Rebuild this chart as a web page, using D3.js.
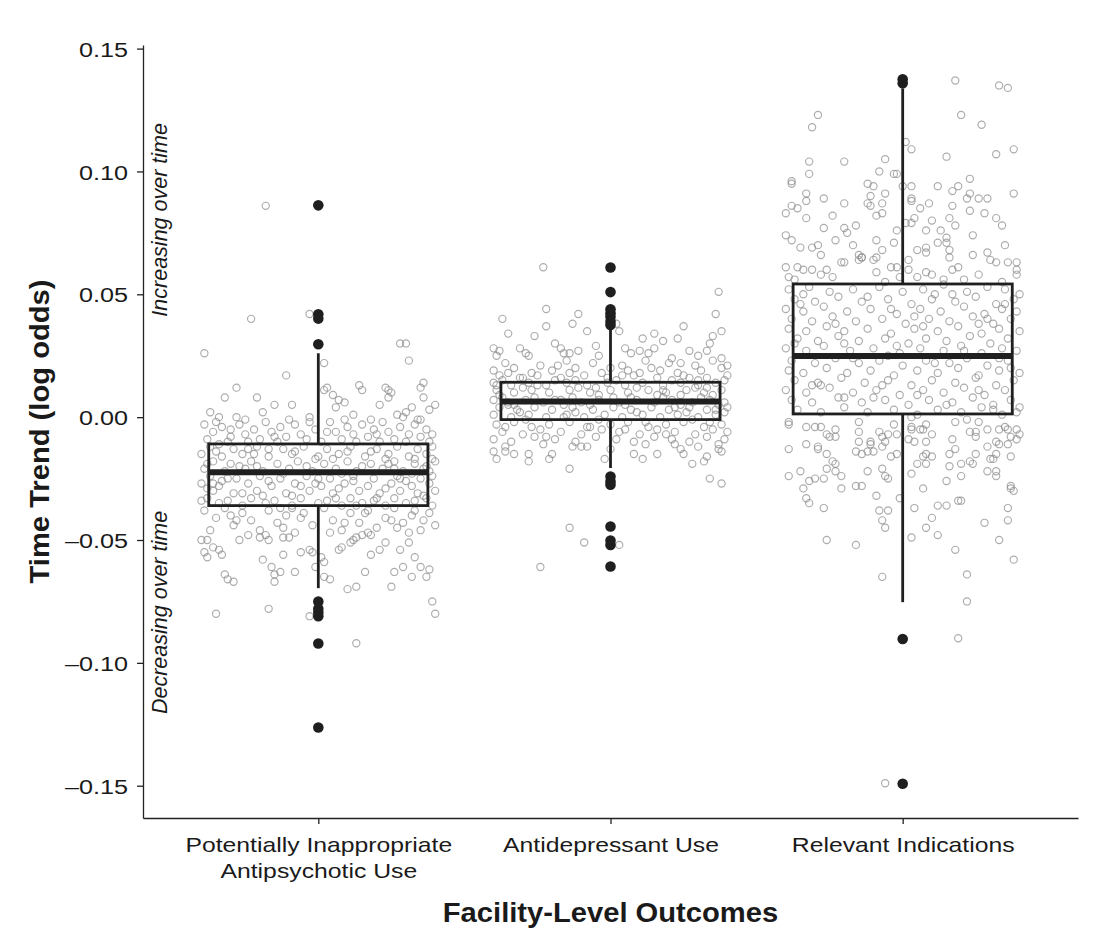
<!DOCTYPE html>
<html lang="en">
<head>
<meta charset="utf-8">
<title>Facility-Level Outcomes</title>
<script src="https://d3js.org/d3.v7.min.js"></script>
<style>
  body { margin: 0; background: #fff; }
  svg text { font-family: "Liberation Sans", Arial, Helvetica, sans-serif; fill: #1a1a1a; }
  .axis path, .axis line { stroke: #222; stroke-width: 1.3; }
  .pt { fill: none; stroke: #8c8c8c; stroke-opacity: 0.72; stroke-width: 1.15; }
  .box { fill: none; stroke: #1f1f1f; stroke-width: 2.8; }
  .median { stroke: #1f1f1f; stroke-width: 6; }
  .whisker { stroke: #1f1f1f; stroke-width: 2.8; }
  .outlier { fill: #1f1f1f; }
</style>
</head>
<body>
<svg id="chart" width="1104" height="940"></svg>
<script>
// categories and axis ticks
var categories = ["Potentially Inappropriate\nAntipsychotic Use", "Antidepressant Use", "Relevant Indications"];
var yTicks = [-0.15, -0.10, -0.05, 0.00, 0.05, 0.10, 0.15];

// box statistics
var boxQ1 = [-0.0360, -0.0010, 0.0013];
var boxMedian = [-0.0224, 0.0064, 0.0249];
var boxQ3 = [-0.0109, 0.0142, 0.0542];
var whiskerLow = [-0.0696, -0.0207, -0.0753];
var whiskerHigh = [0.0260, 0.0369, 0.1338];

var outliers = [
  [0.0862, 0.0419, 0.0401, 0.0297, -0.0750, -0.0780, -0.0795, -0.0810, -0.0921, -0.1263],
  [0.0609, 0.0509, 0.0439, 0.0423, 0.0409, 0.0389, 0.0375, -0.0242, -0.0262, -0.0275, -0.0445, -0.0502, -0.0520, -0.0608],
  [0.1375, 0.1359, -0.0903, -0.1492]
];

// jittered facilities: [jitter (% of category step), log-odds trend]
var points1 = [
  [-18,0.086],[-23,0.040],[-3,0.042],[-39,0.026],[28,0.030],[30,0.030],[31,0.023],[2,0.022],[-11,0.017],[-28,0.012],
  [14,0.013],[15,0.011],[23,0.012],[24,0.011],[36,0.014],[35,0.012],[2,0.011],[3,0.012],[-32,0.008],[-21,0.008],
  [-9,0.005],[-15,0.005],[5,0.009],[7,0.007],[9,0.006],[21,0.005],[24,0.008],[25,0.010],[40,0.005],[38,0.003],
  [36,0.008],[6,0.004],[-37,0.002],[-34,0.000],[-28,0.000],[-25,-0.001],[-3,0.000],[-3,-0.002],[27,0.001],[29,0.000],
  [30,0.002],[32,0.004],[34,-0.001],
  [-39,-0.003],[-36,-0.006],[-33,-0.004],[-30,-0.008],[-27,-0.003],[-25,-0.007],[-22,-0.005],[-20,-0.009],[-18,-0.002],[-16,-0.006],
  [-13,-0.004],[-11,-0.008],[-8,-0.003],[-6,-0.007],[-4,-0.009],[-1,-0.005],[4,-0.002],[6,-0.006],[8,-0.009],[10,-0.004],
  [12,-0.007],[15,-0.003],[17,-0.008],[19,-0.005],[22,-0.002],[24,-0.006],[26,-0.009],[28,-0.004],[31,-0.007],[33,-0.003],
  [35,-0.008],[37,-0.005],[39,-0.007],[-38,-0.009],[-31,-0.010],[-24,-0.010],[-14,-0.010],[1,-0.010],[13,-0.010],[21,-0.010],
  [30,-0.010],[38,-0.010],[-35,-0.002],[9,-0.001],[18,-0.001],
  [-37,-0.012],[-29,-0.013],[-21,-0.012],[-12,-0.013],[-5,-0.012],[3,-0.013],[11,-0.012],[20,-0.013],[27,-0.012],[34,-0.013],[39,-0.012],
  [-40,-0.015],[-33,-0.016],[-26,-0.015],[-17,-0.016],[-9,-0.015],[0,-0.016],[7,-0.015],[16,-0.016],[24,-0.015],[31,-0.016],[37,-0.015],
  [-36,-0.018],[-30,-0.019],[-23,-0.018],[-14,-0.019],[-7,-0.018],[2,-0.019],[10,-0.018],[18,-0.019],[26,-0.018],[33,-0.019],[40,-0.018],
  [-39,-0.021],[-32,-0.022],[-25,-0.021],[-19,-0.022],[-10,-0.021],[-2,-0.022],[6,-0.021],[13,-0.022],[22,-0.021],[29,-0.022],[36,-0.021],
  [-37,-0.024],[-28,-0.025],[-20,-0.024],[-13,-0.025],[-4,-0.024],[4,-0.025],[12,-0.024],[19,-0.025],[27,-0.024],[35,-0.025],[39,-0.024],
  [-40,-0.027],[-34,-0.028],[-24,-0.027],[-16,-0.028],[-8,-0.027],[1,-0.028],[9,-0.027],[17,-0.028],[25,-0.027],[32,-0.028],[38,-0.027],
  [-36,-0.030],[-29,-0.031],[-21,-0.030],[-11,-0.031],[-3,-0.030],[5,-0.031],[14,-0.030],[21,-0.031],[28,-0.030],[34,-0.031],[40,-0.030],
  [-38,-0.033],[-31,-0.034],[-23,-0.033],[-15,-0.034],[-6,-0.033],[3,-0.034],[11,-0.033],[19,-0.034],[26,-0.033],[33,-0.034],[37,-0.033],
  [-34,-0.035],[-26,-0.036],[-18,-0.035],[-9,-0.036],[0,-0.035],[8,-0.036],[15,-0.035],[23,-0.036],[30,-0.035],[39,-0.036],
  [-35,-0.014],[-27,-0.020],[-17,-0.013],[-12,-0.023],[-1,-0.017],[7,-0.029],[15,-0.020],[23,-0.017],[30,-0.026],[37,-0.020],
  [-31,-0.025],[-19,-0.032],[-6,-0.028],[10,-0.014],[20,-0.033],[32,-0.023],[-22,-0.015],[0,-0.025],[26,-0.021],[-38,-0.029],
  [-34,-0.011],[-24,-0.013],[-8,-0.014],[5,-0.017],[18,-0.014],[33,-0.017],[-38,-0.019],[-21,-0.020],[-4,-0.020],[8,-0.023],
  [24,-0.019],[38,-0.022],[-33,-0.026],[-17,-0.026],[-1,-0.027],[12,-0.026],[28,-0.025],[-26,-0.031],[-9,-0.032],[6,-0.033],
  [23,-0.029],[36,-0.032],[-40,-0.034],[-13,-0.037],[16,-0.039],[33,-0.038],[-28,-0.042],[-6,-0.041],[9,-0.043],[25,-0.042],
  [-15,-0.008],[3,-0.006],[20,-0.007],[-30,-0.005],[35,-0.001],[-19,0.002],[12,0.001],[-10,-0.001],[39,-0.017],[-36,-0.027],
  [-39,-0.038],[-35,-0.041],[-32,-0.037],[-29,-0.044],[-26,-0.039],[-23,-0.042],[-20,-0.046],[-17,-0.038],[-14,-0.043],[-11,-0.040],
  [-8,-0.047],[-5,-0.039],[-2,-0.044],[2,-0.037],[5,-0.042],[8,-0.046],[11,-0.039],[14,-0.043],[17,-0.038],[20,-0.045],
  [23,-0.041],[26,-0.037],[29,-0.043],[32,-0.040],[35,-0.046],[38,-0.039],[40,-0.044],[-37,-0.046],[-24,-0.048],[-12,-0.045],
  [4,-0.047],[18,-0.048],[31,-0.047],[-30,-0.040],[-9,-0.037],[13,-0.036],[27,-0.045],[36,-0.042],
  [-40,-0.050],[-38,-0.050],[-36,-0.053],[-34,-0.054],[-39,-0.055],[-38,-0.057],[-33,-0.056],[-32,-0.064],[-31,-0.066],[-29,-0.067],
  [-35,-0.080],[-27,-0.050],[-19,-0.058],[-17,-0.078],[-16,-0.061],[-15,-0.064],[-13,-0.063],[-15,-0.067],[-12,-0.056],[-8,-0.063],
  [-6,-0.055],[-20,-0.049],[-18,-0.048],[-17,-0.050],[-12,-0.049],[-10,-0.049],[-3,-0.054],[-2,-0.055],[-1,-0.061],[1,-0.057],
  [2,-0.059],[2,-0.065],[4,-0.066],[-3,-0.081],[10,-0.070],[13,-0.069],[13,-0.092],[7,-0.054],[8,-0.053],[11,-0.051],
  [12,-0.050],[13,-0.049],[15,-0.048],[17,-0.047],[16,-0.063],[18,-0.056],[21,-0.054],[23,-0.051],[25,-0.069],[26,-0.063],
  [28,-0.054],[29,-0.061],[31,-0.051],[33,-0.057],[32,-0.065],[35,-0.061],[38,-0.062],[37,-0.065],[39,-0.075],[40,-0.080]
];

var points2 = [
  [-23,0.061],[37,0.051],[-22,0.044],[-37,0.040],[-11,0.042],[-13,0.038],[-22,0.037],[-35,0.034],[-8,0.035],[-26,0.033],
  [36,0.042],[25,0.037],[38,0.035],[35,0.033],[34,0.030],[15,0.034],[11,0.032],[18,0.031],[23,0.032],[3,0.035],
  [2,0.038],[-19,0.030],[-17,0.028],[-16,0.026],[-40,0.028],[-38,0.027],[-39,0.025],[-31,0.028],[-29,0.026],[-28,0.025],
  [-11,0.027],[-14,0.026],[-5,0.029],[-4,0.025],[5,0.028],[7,0.026],[10,0.027],[13,0.026],[15,0.028],[21,0.024],
  [24,0.022],[27,0.027],[30,0.025],[33,0.027],[38,0.024],[40,0.021],
  [-40,-0.014],[-39,-0.017],[-36,-0.014],[-33,-0.015],[-28,-0.015],[-28,-0.018],[-20,-0.015],[-21,-0.017],[-14,-0.021],[-13,-0.012],
  [-10,-0.012],[-2,-0.017],[0,-0.013],[8,-0.015],[11,-0.017],[16,-0.015],[22,-0.011],[25,-0.015],[28,-0.019],[30,-0.012],
  [32,-0.018],[33,-0.016],[37,-0.013],[38,-0.014],[34,-0.025],[38,-0.027],[-14,-0.045],[-9,-0.051],[3,-0.052],[-24,-0.061],
  [-36,0.022],[-24,0.021],[-15,0.023],[-6,0.022],[4,0.021],[12,0.023],[20,0.022],[29,0.021],[35,0.023],
  [-40,0.019],[-33,0.020],[-27,0.018],[-20,0.019],[-12,0.020],[-3,0.018],[6,0.019],[14,0.020],[23,0.018],[31,0.019],[38,0.020],
  [-38,0.017],[-31,0.016],[-25,0.017],[-17,0.016],[-9,0.017],[-1,0.016],[8,0.017],[16,0.016],[25,0.017],[33,0.016],[40,0.017],
  [-35,0.018],[-14,0.018],[10,0.018],[27,0.016],
  [-40,0.014],[-34,0.013],[-28,0.014],[-22,0.013],[-15,0.014],[-8,0.013],[-1,0.014],[5,0.013],[11,0.014],[18,0.013],
  [24,0.014],[30,0.013],[36,0.014],[-37,0.015],[-19,0.015],[2,0.015],[21,0.015],[39,0.015],
  [-39,0.011],[-33,0.010],[-27,0.011],[-21,0.010],[-14,0.011],[-7,0.010],[0,0.011],[6,0.010],[13,0.011],[19,0.010],
  [26,0.011],[32,0.010],[38,0.011],[-30,0.012],[-11,0.012],[9,0.012],[29,0.012],[-4,0.009],[16,0.009],[35,0.009],
  [-40,0.007],[-35,0.006],[-29,0.007],[-23,0.006],[-17,0.007],[-10,0.006],[-4,0.007],[3,0.006],[9,0.007],[15,0.006],
  [21,0.007],[28,0.006],[34,0.007],[39,0.006],[-37,0.008],[-26,0.008],[-13,0.008],[1,0.008],[18,0.008],[31,0.008],
  [-38,0.004],[-32,0.003],[-26,0.004],[-20,0.003],[-13,0.004],[-6,0.003],[1,0.004],[7,0.003],[14,0.004],[20,0.003],
  [27,0.004],[33,0.003],[40,0.004],[-35,0.005],[-16,0.005],[5,0.005],[24,0.005],[37,0.005],
  [-40,0.001],[-34,0.000],[-28,0.001],[-22,0.000],[-15,0.001],[-9,0.000],[-2,0.001],[4,0.000],[11,0.001],[17,0.000],
  [23,0.001],[30,0.000],[36,0.001],[-31,0.002],[-12,0.002],[9,0.002],[26,0.002],
  [-39,-0.003],[-33,-0.002],[-27,-0.004],[-21,-0.003],[-14,-0.002],[-7,-0.004],[0,-0.003],[6,-0.002],[13,-0.004],[19,-0.003],
  [25,-0.002],[32,-0.004],[38,-0.003],
  [-37,-0.006],[-30,-0.007],[-24,-0.005],[-17,-0.006],[-10,-0.007],[-3,-0.005],[3,-0.006],[10,-0.007],[16,-0.005],[22,-0.006],
  [29,-0.007],[35,-0.005],[40,-0.006],
  [-40,-0.009],[-34,-0.010],[-26,-0.008],[-19,-0.009],[-12,-0.010],[-5,-0.008],[2,-0.009],[8,-0.010],[15,-0.008],[21,-0.009],
  [27,-0.010],[33,-0.008],[39,-0.009],
  [-36,-0.012],[-23,-0.011],[-8,-0.012],[12,-0.011],[24,-0.013],[37,-0.011],
  [-38,0.009],[-25,0.013],[-12,0.015],[4,0.017],[18,0.011],[33,0.012],[-33,0.005],[-19,0.007],[-7,0.005],[7,0.008],
  [22,0.004],[36,0.003],[-29,-0.001],[-16,0.000],[-4,-0.001],[12,-0.002],[28,-0.001],[-36,-0.004],[-22,-0.008],[-8,-0.004],
  [5,-0.005],[19,-0.007],[34,-0.002],[-30,0.016],[-18,0.021],[0,0.020],[17,0.019],[30,0.015],[-5,0.012],[24,0.009],
  [-39,0.013],[39,0.002]
];

var points3 = [
  [18,0.137],[33,0.135],[36,0.134],[-29,0.123],[-31,0.118],[20,0.123],[27,0.119],[1,0.112],[3,0.109],[38,0.109],
  [32,0.107],[15,0.106],[-20,0.104],[-6,0.105],[-32,0.104],[-32,0.099],[-8,0.100],[-3,0.099],[-2,0.099],[-38,0.096],
  [-38,0.095],[23,0.097],[38,0.091],[-12,0.095],[-10,0.094],[0,0.094],[3,0.094],[12,0.094],[19,0.094],[17,0.092],
  [23,0.091],[22,0.089],[26,0.089],[29,0.089],[-33,0.091],[-33,0.088],[-27,0.089],[-11,0.090],[-12,0.087],[-11,0.086],
  [-6,0.091],[-7,0.087],[3,0.089],[3,0.088],[-20,0.087],[-38,0.086],[-36,0.085],[-40,0.083],[9,0.087],[17,0.086],
  [23,0.084],[28,0.083],[32,0.081],[34,0.078],[-33,0.081],[-24,0.082],[-9,0.082],[-7,0.083],[4,0.081],[6,0.085],
  [10,0.080],[16,0.081],[18,0.078],[-27,0.077],[-20,0.077],[-16,0.078],[-2,0.076],[1,0.079],[3,0.079],[8,0.076],
  [13,0.076],[24,0.074],[35,0.070],[-40,0.074],[-38,0.072],[-35,0.069],[-31,0.069],[-29,0.070],[-28,0.066],[-23,0.072],
  [-19,0.075],[-17,0.070],[-15,0.066],[-14,0.065],[-10,0.064],[-9,0.065],[-7,0.068],[-9,0.072],[-3,0.071],[2,0.064],
  [5,0.068],[8,0.067],[8,0.069],[12,0.071],[15,0.073],[15,0.071],[16,0.068],[16,0.065],[19,0.061],[24,0.066],
  [26,0.058],[29,0.067],[30,0.064],[32,0.063],[36,0.063],[39,0.063],[39,0.060],[-40,0.061],[-39,0.057],[-36,0.061],
  [-34,0.060],[-31,0.060],[-28,0.058],[-26,0.060],[-21,0.063],[-20,0.063],[-14,0.065],[-15,0.064],[-9,0.059],[-4,0.061],
  [-2,0.061],[-1,0.057],[2,0.060],[8,0.059],[10,0.058],[14,0.056],[17,0.060],
  [-37,0.056],[-24,0.057],[-6,0.055],[5,0.057],[21,0.056],[34,0.055],[39,0.058],
  [-39,0.052],[-32,0.053],[-25,0.051],[-17,0.052],[-8,0.053],[0,0.051],[7,0.052],[14,0.054],[22,0.051],[29,0.053],[35,0.052],[40,0.050],
  [-37,0.048],[-30,0.047],[-22,0.049],[-14,0.047],[-5,0.048],[3,0.046],[10,0.048],[18,0.047],[25,0.049],[32,0.046],[38,0.048],
  [-40,0.044],[-34,0.043],[-27,0.045],[-19,0.043],[-11,0.044],[-2,0.042],[6,0.044],[13,0.043],[21,0.045],[28,0.042],[34,0.044],[39,0.043],
  [-38,0.040],[-31,0.039],[-24,0.041],[-16,0.039],[-7,0.040],[1,0.038],[9,0.040],[16,0.039],[24,0.041],[31,0.038],[37,0.040],
  [-39,0.036],[-33,0.035],[-26,0.037],[-20,0.035],[-12,0.036],[-4,0.034],[4,0.036],[12,0.035],[19,0.037],[27,0.034],[33,0.036],[40,0.035],
  [-36,0.032],[-29,0.031],[-22,0.033],[-15,0.031],[-6,0.032],[2,0.030],[8,0.032],[15,0.031],[23,0.033],[30,0.030],[36,0.032],
  [-40,0.028],[-33,0.027],[-27,0.029],[-18,0.027],[-10,0.028],[-1,0.026],[6,0.028],[14,0.027],[20,0.029],[27,0.026],[34,0.028],[39,0.027],
  [-38,0.023],[-30,0.022],[-23,0.024],[-15,0.022],[-8,0.023],[0,0.021],[8,0.023],[16,0.022],[22,0.024],[29,0.021],[36,0.023],
  [-39,0.019],[-34,0.018],[-26,0.020],[-19,0.018],[-11,0.019],[-3,0.017],[5,0.019],[12,0.018],[19,0.020],[26,0.017],[33,0.019],[40,0.018],
  [-37,0.015],[-29,0.014],[-21,0.016],[-13,0.014],[-5,0.015],[3,0.013],[10,0.015],[18,0.014],[25,0.016],[32,0.013],[38,0.015],
  [-40,0.011],[-33,0.010],[-25,0.012],[-17,0.010],[-9,0.011],[-1,0.009],[7,0.011],[14,0.010],[21,0.012],[28,0.009],[35,0.011],
  [-38,0.007],[-31,0.006],[-22,0.008],[-14,0.006],[-6,0.007],[2,0.005],[9,0.007],[17,0.006],[24,0.008],[31,0.005],[37,0.007],[40,0.004],
  [-36,0.003],[-28,0.002],[-20,0.004],[-12,0.002],[-3,0.003],[5,0.001],[12,0.003],[20,0.002],[27,0.004],[34,0.001],[39,0.002],
  [-35,0.046],[-20,0.030],[-5,0.025],[11,0.050],[26,0.038],[-28,0.013],[15,0.005],[33,0.024],[-10,0.008],[4,0.041],
  [-34,0.050],[-12,0.049],[17,0.050],[-23,0.038],[7,0.037],[29,0.040],[-37,0.030],[-2,0.029],[21,0.027],[-17,0.024],
  [11,0.022],[37,0.020],[-31,0.013],[-7,0.013],[26,0.011],[-20,0.008],[5,0.009],[31,0.003],[-4,0.044],[35,0.046],
  [-39,-0.002],[-39,-0.003],[-33,-0.004],[-30,-0.004],[-28,-0.004],[-39,-0.013],[-33,-0.011],[-29,-0.012],[-29,-0.013],[-26,-0.015],
  [-26,-0.007],[-25,-0.008],[-23,-0.008],[-23,-0.005],[-24,-0.018],[-23,-0.019],[-26,-0.021],[-39,-0.024],[-35,-0.022],[-32,-0.026],
  [-30,-0.025],[-27,-0.025],[-34,-0.029],[-33,-0.033],[-32,-0.035],[-27,-0.037],[-23,-0.022],[-21,-0.024],[-21,-0.029],[-16,-0.028],
  [-14,-0.028],[-26,-0.050],[-16,-0.052],[-15,-0.002],[-15,-0.006],[-15,-0.010],[-16,-0.014],[-14,-0.015],[-12,-0.014],[-10,-0.014],
  [-12,-0.022],[-11,-0.010],[-11,-0.011],[-8,-0.006],[-7,-0.008],[-6,-0.010],[-7,-0.012],[-5,-0.007],[-7,-0.021],[-6,-0.024],
  [-5,-0.025],[-9,-0.032],[-8,-0.038],[-5,-0.038],[-7,-0.042],[-6,-0.045],[-7,-0.065],[-1,-0.033],[-4,-0.016],[-2,-0.015],
  [-3,-0.003],[-2,-0.007],[3,0.000],[3,-0.004],[3,-0.005],[2,-0.009],[4,-0.010],[3,-0.023],[6,-0.005],[7,-0.005],
  [8,-0.003],[10,-0.007],[8,-0.010],[8,-0.015],[7,-0.016],[8,-0.019],[5,-0.019],[10,-0.016],[7,-0.029],[4,-0.037],
  [10,-0.041],[12,-0.036],[15,-0.036],[8,-0.045],[12,-0.048],[3,-0.049],[15,-0.026],[16,-0.020],[16,-0.015],[18,-0.013],
  [20,-0.019],[20,-0.024],[23,-0.018],[24,-0.019],[25,-0.015],[17,-0.009],[18,-0.002],[22,-0.001],[23,-0.006],[25,-0.008],
  [26,-0.002],[19,-0.034],[20,-0.034],[18,-0.054],[22,-0.064],[22,-0.075],[19,-0.090],[-6,-0.149],[28,-0.043],[33,-0.050],
  [36,-0.042],[36,-0.037],[38,-0.058],[37,-0.028],[37,-0.029],[38,-0.030],[29,-0.012],[30,-0.017],[31,-0.017],[32,-0.015],
  [32,-0.010],[33,-0.011],[29,-0.022],[32,-0.024],[32,-0.022],[36,-0.011],[37,-0.008],[39,-0.009],[40,-0.007],[39,-0.005],
  [36,-0.005],[37,-0.016],[25,-0.006],[29,-0.005],[33,-0.005],[35,-0.004]
];

var pointSets = [points1, points2, points3];

var annotations = [
  { label: "Increasing over time", value: 0.0803 },
  { label: "Decreasing over time", value: -0.0795 }
];

var svg = d3.select("#chart"),
    margin = {top: 45, right: 26, bottom: 122, left: 143},
    width = +svg.attr("width") - margin.left - margin.right,
    height = +svg.attr("height") - margin.top - margin.bottom;

// text in the source figure is drawn a bit wider than normal
var sx = 1.2;

var x = d3.scalePoint().domain(categories).range([0, width]).padding(0.6),
    y = d3.scaleLinear().domain([-0.16314, 0.15146]).range([height, 0]);

var step = x.step(),
    boxHalf = 0.375 * step;

var g = svg.append("g")
    .attr("transform", "translate(" + margin.left + "," + margin.top + ")");

var fmt = d3.format(".2f");

// axes
var gy = g.append("g")
    .attr("class", "axis axis--y")
    .call(d3.axisLeft(y).tickValues(yTicks).tickSize(6).tickSizeOuter(0)
      .tickFormat(function(d) { return fmt(d).replace("−", "–").replace("-", "–"); }));

gy.selectAll(".tick text")
    .attr("x", -15 / sx)
    .attr("dy", "0.36em")
    .attr("transform", "scale(" + sx + ",1)")
    .style("font-size", "21px")
    .style("fill", "#1a1a1a");

var gx = g.append("g")
    .attr("class", "axis axis--x")
    .attr("transform", "translate(0," + height + ")")
    .call(d3.axisBottom(x).tickSize(6).tickSizeOuter(0));

gx.selectAll(".tick text").remove();
gx.selectAll(".tick").append("text")
    .attr("transform", "scale(1.22,1)")
    .attr("text-anchor", "middle")
    .style("font-size", "20.3px")
    .style("fill", "#1a1a1a")
    .each(function(d) {
      var t = d3.select(this);
      d.split("\n").forEach(function(line, i) {
        t.append("tspan").attr("x", 0).attr("y", 33.7 + i * 26.5).text(line);
      });
    });

gy.select(".domain").attr("stroke", "#222");
gx.select(".domain").attr("stroke", "#222");

// jittered points
pointSets.forEach(function(pts, i) {
  var cx = x(categories[i]);
  g.append("g").selectAll("circle")
    .data(pts)
    .enter().append("circle")
      .attr("class", "pt")
      .attr("cx", function(d) { return cx + d[0] / 100 * step; })
      .attr("cy", function(d) { return y(d[1]); })
      .attr("r", 3.6);
});

// boxes
categories.forEach(function(c, i) {
  var cx = x(c),
      bg = g.append("g");

  bg.append("line").attr("class", "whisker")
      .attr("x1", cx).attr("x2", cx)
      .attr("y1", y(boxQ3[i])).attr("y2", y(whiskerHigh[i]));
  bg.append("line").attr("class", "whisker")
      .attr("x1", cx).attr("x2", cx)
      .attr("y1", y(boxQ1[i])).attr("y2", y(whiskerLow[i]));

  bg.append("rect").attr("class", "box")
      .attr("x", cx - boxHalf)
      .attr("width", 2 * boxHalf)
      .attr("y", y(boxQ3[i]))
      .attr("height", y(boxQ1[i]) - y(boxQ3[i]));

  bg.append("line").attr("class", "median")
      .attr("x1", cx - boxHalf).attr("x2", cx + boxHalf)
      .attr("y1", y(boxMedian[i])).attr("y2", y(boxMedian[i]));

  bg.selectAll(".outlier")
    .data(outliers[i])
    .enter().append("circle")
      .attr("class", "outlier")
      .attr("cx", cx)
      .attr("cy", function(d) { return y(d); })
      .attr("r", 5.3);
});

// direction notes along the y axis
g.selectAll(".note")
  .data(annotations)
  .enter().append("text")
    .attr("class", "note")
    .attr("transform", function(d) { return "translate(23.5," + y(d.value) + ") rotate(-90)"; })
    .attr("text-anchor", "middle")
    .style("font-size", "21.5px")
    .style("font-style", "italic")
    .text(function(d) { return d.label; });

// axis titles
g.append("text")
    .attr("transform", "translate(" + (width / 2) + "," + (height + 104) + ") scale(1.08,1)")
    .attr("text-anchor", "middle")
    .style("font-size", "27px")
    .style("font-weight", "bold")
    .text("Facility-Level Outcomes");

g.append("text")
    .attr("transform", "translate(" + (49 - margin.left) + "," + (height / 2) + ") rotate(-90) scale(1.08,1)")
    .attr("text-anchor", "middle")
    .style("font-size", "27px")
    .style("font-weight", "bold")
    .text("Time Trend (log odds)");

</script>
</body>
</html>
